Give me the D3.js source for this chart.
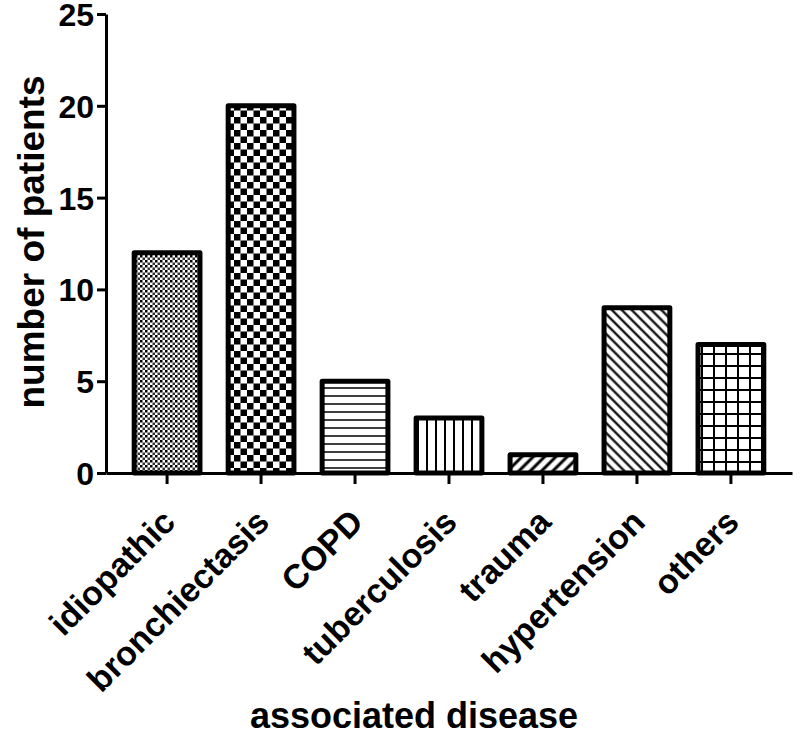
<!DOCTYPE html>
<html><head><meta charset="utf-8">
<script src="https://cdn.jsdelivr.net/npm/d3@7"></script>
<style>body{margin:0;background:#fff}svg{display:block}text{font-family:"Liberation Sans",Arial,sans-serif;font-weight:bold}</style>
</head><body><svg id="c" width="800" height="738"></svg>
<script>
const categories = ["idiopathic","bronchiectasis","COPD","tuberculosis","trauma","hypertension","others"];
const values = [12,20,5,3,1,9,7];
const patterns = ["dots","checker","hlines","vlines","diagR","diagL","grid"];
const yTicks = [0,5,10,15,20,25];

const svg = d3.select("#c");
const defs = svg.append("defs");
function pat(id,w,h,draw){const p=defs.append("pattern").attr("id",id).attr("patternUnits","userSpaceOnUse").attr("width",w).attr("height",h);p.append("rect").attr("width",w).attr("height",h).attr("fill","#fff");draw(p);}
pat("dots",5,5,p=>{p.append("rect").attr("x",0).attr("y",0).attr("width",2.5).attr("height",2.5).attr("fill","#000");p.append("rect").attr("x",2.5).attr("y",2.5).attr("width",2.5).attr("height",2.5).attr("fill","#333");});
pat("checker",13,13,p=>{p.append("rect").attr("width",6.5).attr("height",6.5).attr("fill","#000");p.append("rect").attr("x",6.5).attr("y",6.5).attr("width",6.5).attr("height",6.5).attr("fill","#000");});
pat("hlines",8,8,p=>{p.append("line").attr("x1",0).attr("x2",8).attr("y1",4).attr("y2",4).attr("stroke","#000").attr("stroke-width",1.5);});
pat("vlines",9,9,p=>{p.append("line").attr("y1",0).attr("y2",9).attr("x1",4).attr("x2",4).attr("stroke","#000").attr("stroke-width",2);});
pat("diagR",8,8,p=>{p.attr("patternTransform","rotate(45)");p.append("line").attr("y1",0).attr("y2",8).attr("x1",4).attr("x2",4).attr("stroke","#000").attr("stroke-width",3);});
pat("diagL",7,7,p=>{p.attr("patternTransform","rotate(-45)");p.append("line").attr("y1",0).attr("y2",7).attr("x1",3.5).attr("x2",3.5).attr("stroke","#000").attr("stroke-width",2.2);});
pat("grid",12,12,p=>{p.append("line").attr("x1",0).attr("x2",12).attr("y1",6).attr("y2",6).attr("stroke","#000").attr("stroke-width",2);p.append("line").attr("y1",0).attr("y2",12).attr("x1",6).attr("x2",6).attr("stroke","#000").attr("stroke-width",2);});

const x = d3.scaleBand().domain(categories).range([106,792]).padding(0.3);
const y = d3.scaleLinear().domain([0,25]).range([473,14]);

svg.selectAll("rect.bar").data(categories).enter().append("rect").attr("class","bar")
  .attr("x",d=>x(d)).attr("width",x.bandwidth())
  .attr("y",(d,i)=>y(values[i])).attr("height",(d,i)=>y(0)-y(values[i]))
  .attr("fill",(d,i)=>`url(#${patterns[i]})`).attr("stroke","#000").attr("stroke-width",5).attr("stroke-linejoin","round");

const ya = svg.append("g").attr("transform","translate(106,0)")
  .call(d3.axisLeft(y).tickValues(yTicks).tickSize(9).tickPadding(3).tickSizeOuter(0));
ya.select(".domain").attr("stroke-width",3);
ya.selectAll(".tick line").attr("stroke-width",3);
ya.selectAll("text").attr("font-size",32).attr("fill","#000").attr("dy","0.36em");

const xa = svg.append("g").attr("transform","translate(0,473)")
  .call(d3.axisBottom(x).tickSize(11).tickSizeOuter(0));
xa.select(".domain").attr("stroke-width",3);
xa.selectAll(".tick line").attr("stroke-width",3);
xa.selectAll("text").attr("font-size",34).attr("fill","#000")
  .attr("text-anchor","end").attr("y",0).attr("dy",0).attr("transform","translate(10,51) rotate(-45)");

svg.append("text").attr("x",414).attr("y",728).attr("text-anchor","middle").attr("font-size",36).text("associated disease");
svg.append("text").attr("transform","translate(44,242) rotate(-90)").attr("text-anchor","middle").attr("font-size",37).text("number of patients");
</script></body></html>
